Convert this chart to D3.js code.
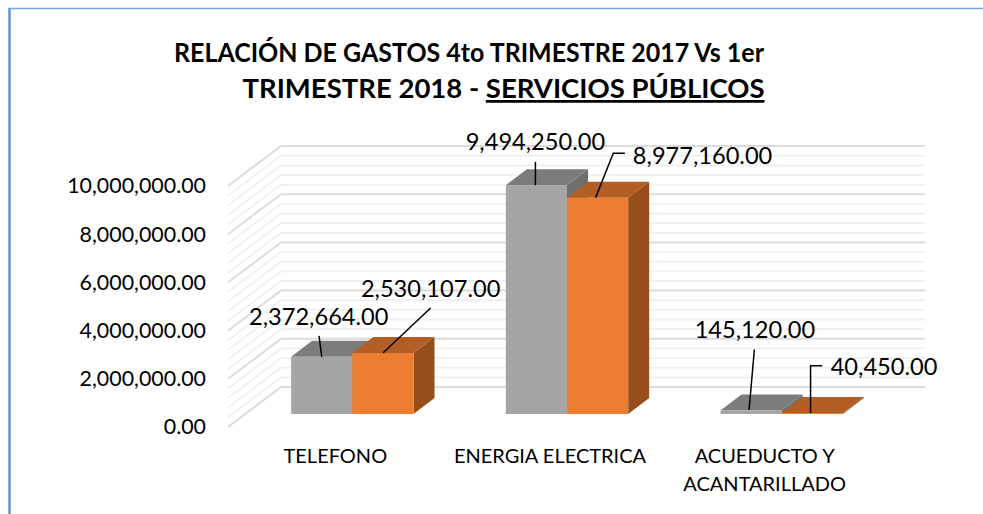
<!DOCTYPE html>
<html>
<head>
<meta charset="utf-8">
<script src="https://cdn.jsdelivr.net/npm/d3@7"></script>
<style>
html, body { margin: 0; padding: 0; background: #fff; }
svg { display: block; }
text { font-family: Lato, "Noto Sans", sans-serif; fill: #000; }
</style>
</head>
<body>
<div id="chart"></div>
<script>
var categories = ["TELEFONO", "ENERGIA ELECTRICA", "ACUEDUCTO Y|ACANTARILLADO"];
var seriesNames = ["4to TRIMESTRE 2017", "1er TRIMESTRE 2018"];
var series2017 = [2372664, 9494250, 145120];
var series2018 = [2530107, 8977160, 40450];
var yTicks = [0, 2000000, 4000000, 6000000, 8000000, 10000000];
var minorStep = 400000;

var width = 983, height = 514;
var plot = { left: 228, right: 872, bottom: 427, top: 186 };
var wall = { dx: 53, dy: -40 };       // depth of the side wall
var barFront = { dx: 17, dy: -13 };   // where the bars start inside the floor
var barDepth = { dx: 21, dy: -16 };

// 3d shading of every series: front, top, side
var shades = [
  { front: "#a5a5a5", top: "#7c7c7c", side: "#6e6e6e" },
  { front: "#ed7d31", top: "#b25e24", side: "#964f1b" }
];

// label centre + leader line, measured from the middle of each bar's top edge
var labelSpots = [
  [{ label: [-3, -40.5], line: [[-2.7, -21], [0, 0]] },
   { label: [47.7, -64], line: [[47.7, -45], [0, 0]] }],
  [{ label: [-1, -43], line: [[-1, -23.3], [-1, 0]] },
   { label: [105, -42.4], line: [[27.3, -44.4], [15.7, -44.4], [-2, 0]] }],
  [{ label: [3.8, -80.5], line: [[3.3, -61], [-2, -0.5]] },
   { label: [71.8, -46], line: [[10, -47.3], [-1.7, -47.3], [-1.7, 0]] }]
];

var svg = d3.select("#chart").append("svg")
  .attr("width", width)
  .attr("height", height);

// outer frame of the pasted picture
svg.append("line").attr("x1", 9.5).attr("x2", 9.5).attr("y1", 8).attr("y2", height)
  .attr("stroke", "#5b8ed1").attr("stroke-width", 2.4);
svg.append("line").attr("x1", 8).attr("x2", width).attr("y1", 8.5).attr("y2", 8.5)
  .attr("stroke", "#7fa6dc").attr("stroke-width", 1.4);

// title
var title = svg.append("g").attr("font-weight", 700).attr("font-size", 27.5).attr("text-anchor", "middle");
title.append("text").attr("x", 469).attr("y", 62)
  .attr("textLength", 590).attr("lengthAdjust", "spacingAndGlyphs")
  .text("RELACIÓN DE GASTOS 4to TRIMESTRE 2017 Vs 1er");
var t2 = title.append("text").attr("x", 503.5).attr("y", 98);
t2.append("tspan").text("TRIMESTRE 2018 - ");
t2.append("tspan").attr("text-decoration", "underline").text("SERVICIOS PÚBLICOS");

var y = d3.scaleLinear().domain([0, 10000000]).range([plot.bottom, plot.top]);
var x0 = d3.scaleBand().domain(categories).range([plot.left, plot.right]).paddingInner(0.43).paddingOuter(0.215);
var x1 = d3.scaleBand().domain(seriesNames).range([0, x0.bandwidth()]);

// grid on the back and left walls
var minorTicks = d3.range(0, 10000000 + 1, minorStep).filter(function (d) { return yTicks.indexOf(d) < 0; });
var grid = svg.append("g").attr("fill", "none");

function wallLine(sel) {
  sel.attr("points", function (d) {
    return [
      [plot.left, y(d)],
      [plot.left + wall.dx, y(d) + wall.dy],
      [plot.right + wall.dx, y(d) + wall.dy]
    ].join(" ");
  });
}

grid.selectAll(".minor").data(minorTicks).enter().append("polyline")
  .attr("class", "minor")
  .attr("stroke", "#efefef").attr("stroke-width", 1.8)
  .call(wallLine);

grid.selectAll(".major").data(yTicks).enter().append("polyline")
  .attr("class", "major")
  .attr("stroke", "#dcdcdc").attr("stroke-width", 2)
  .call(wallLine);

// y axis, only its labels show
var yAxis = svg.append("g")
  .attr("transform", "translate(212,0)")
  .call(d3.axisLeft(y).tickValues(yTicks).tickFormat(d3.format(",.2f")).tickSize(0).tickPadding(6));
yAxis.select(".domain").remove();
yAxis.selectAll("text").attr("font-size", 21.4).attr("font-family", "Lato");

// bars
var rows = categories.map(function (c, i) {
  return [series2017[i], series2018[i]].map(function (v, s) {
    return { cat: c, i: i, s: s, value: v };
  });
});

function barX(d) { return x0(d.cat) + x1(seriesNames[d.s]) + barFront.dx; }
function barTop(d) { return y(d.value) + barFront.dy; }
var barBase = y(0) + barFront.dy;

var bars = svg.append("g").selectAll("g").data(d3.merge(rows)
  .sort(function (a, b) { return a.i - b.i || a.s - b.s; }))
  .enter().append("g");

bars.append("polygon") // side
  .attr("fill", function (d) { return shades[d.s].side; })
  .attr("points", function (d) {
    var r = barX(d) + x1.bandwidth();
    return [[r, barTop(d)], [r + barDepth.dx, barTop(d) + barDepth.dy],
            [r + barDepth.dx, barBase + barDepth.dy], [r, barBase]].join(" ");
  });

bars.append("polygon") // top
  .attr("fill", function (d) { return shades[d.s].top; })
  .attr("points", function (d) {
    var l = barX(d), r = l + x1.bandwidth();
    return [[l, barTop(d)], [l + barDepth.dx, barTop(d) + barDepth.dy],
            [r + barDepth.dx, barTop(d) + barDepth.dy], [r, barTop(d)]].join(" ");
  });

bars.append("rect") // front
  .attr("fill", function (d) { return shades[d.s].front; })
  .attr("x", barX)
  .attr("y", barTop)
  .attr("width", x1.bandwidth())
  .attr("height", function (d) { return barBase - barTop(d); });

// category labels
var catLabels = svg.append("g").attr("font-size", 20).attr("text-anchor", "middle");
categories.forEach(function (c) {
  c.split("|").forEach(function (part, j) {
    catLabels.append("text")
      .attr("x", x0(c) + x0.bandwidth() / 2)
      .attr("y", 463 + j * 28)
      .text(part);
  });
});

// data labels with leader lines
var valueFormat = d3.format(",.2f");
var leader = d3.line();
var labels = svg.append("g");
d3.merge(rows).forEach(function (d) {
  var spot = labelSpots[d.i][d.s];
  var ax = barX(d) + x1.bandwidth() / 2, ay = barTop(d);
  labels.append("path")
    .attr("fill", "none").attr("stroke", "#000").attr("stroke-width", 1.5)
    .attr("d", leader(spot.line.map(function (p) { return [ax + p[0], ay + p[1]]; })));
  labels.append("text")
    .attr("x", ax + spot.label[0])
    .attr("y", ay + spot.label[1])
    .attr("dy", "0.35em")
    .attr("text-anchor", "middle")
    .attr("font-size", 23.6)
    .text(valueFormat(d.value));
});
</script>
</body>
</html>
